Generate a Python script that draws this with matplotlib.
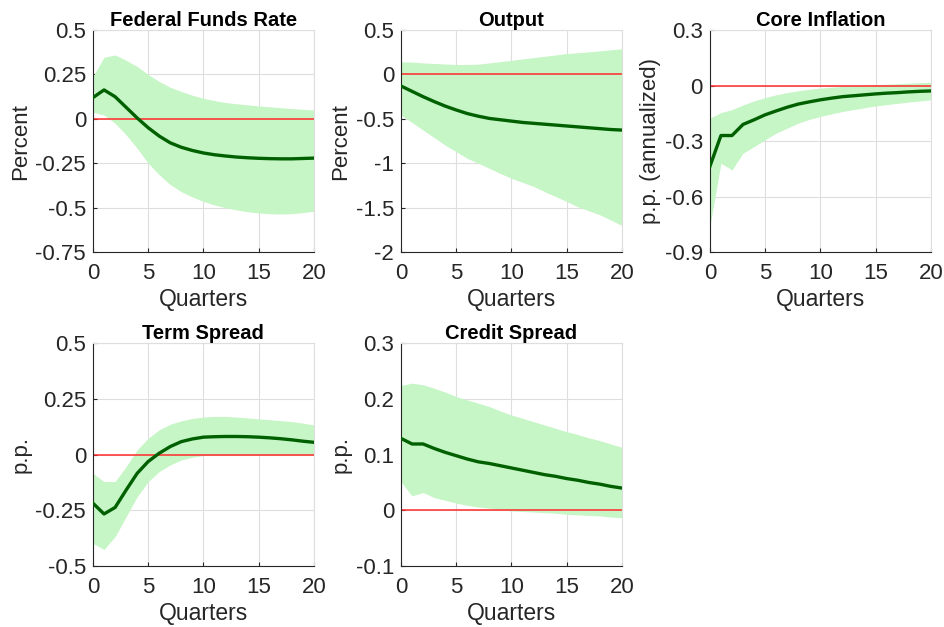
import matplotlib
matplotlib.use("Agg")
import matplotlib.pyplot as plt
import numpy as np

plt.rcParams['font.family'] = ['Liberation Sans', 'DejaVu Sans']

quarters = np.arange(21)

# Federal Funds Rate
ffr_med = [0.12, 0.163, 0.125, 0.065, 0.005, -0.05, -0.097, -0.135, -0.16, -0.178, -0.192,
           -0.202, -0.209, -0.215, -0.219, -0.222, -0.224, -0.225, -0.225, -0.223, -0.221]
ffr_hi = [0.24, 0.347, 0.36, 0.33, 0.295, 0.25, 0.21, 0.178, 0.154, 0.133, 0.116,
          0.103, 0.092, 0.085, 0.079, 0.073, 0.068, 0.063, 0.058, 0.054, 0.05]
ffr_lo = [0.037, 0.022, -0.024, -0.09, -0.165, -0.25, -0.315, -0.37, -0.41, -0.44, -0.465,
          -0.485, -0.50, -0.513, -0.523, -0.53, -0.534, -0.536, -0.534, -0.528, -0.52]

# Output
out_med = [-0.13, -0.19, -0.25, -0.305, -0.356, -0.40, -0.44, -0.47, -0.495, -0.51, -0.525,
           -0.54, -0.55, -0.56, -0.57, -0.58, -0.59, -0.60, -0.61, -0.62, -0.626]
out_hi = [0.142, 0.14, 0.13, 0.124, 0.118, 0.112, 0.113, 0.116, 0.13, 0.145, 0.16,
          0.175, 0.19, 0.205, 0.22, 0.236, 0.245, 0.255, 0.266, 0.278, 0.29]
out_lo = [-0.457, -0.54, -0.626, -0.71, -0.795, -0.87, -0.945, -1.0, -1.057, -1.115, -1.17,
          -1.215, -1.26, -1.32, -1.375, -1.43, -1.49, -1.535, -1.58, -1.64, -1.70]

# Core Inflation
core_med = [-0.437, -0.27, -0.27, -0.21, -0.185, -0.158, -0.137, -0.117, -0.10, -0.088, -0.077,
            -0.068, -0.06, -0.055, -0.05, -0.045, -0.041, -0.038, -0.034, -0.031, -0.029]
core_hi = [-0.176, -0.146, -0.13, -0.105, -0.083, -0.065, -0.05, -0.038, -0.028, -0.02, -0.014,
           -0.009, -0.005, -0.001, 0.002, 0.004, 0.007, 0.01, 0.013, 0.016, 0.018]
core_lo = [-0.76, -0.42, -0.456, -0.365, -0.33, -0.293, -0.257, -0.23, -0.203, -0.183, -0.167,
           -0.153, -0.14, -0.13, -0.12, -0.11, -0.103, -0.096, -0.089, -0.083, -0.077]

# Term Spread
term_med = [-0.218, -0.266, -0.237, -0.159, -0.084, -0.031, 0.006, 0.036, 0.058, 0.07, 0.078,
            0.08, 0.081, 0.081, 0.08, 0.078, 0.075, 0.071, 0.066, 0.06, 0.055]
term_hi = [-0.084, -0.121, -0.121, -0.054, 0.021, 0.073, 0.111, 0.136, 0.151, 0.162, 0.168,
           0.171, 0.171, 0.168, 0.164, 0.16, 0.156, 0.152, 0.148, 0.141, 0.133]
term_lo = [-0.398, -0.425, -0.368, -0.278, -0.189, -0.121, -0.076, -0.046, -0.024, -0.012, -0.004,
           0.0, 0.0, 0.0, 0.0, 0.0, 0.0, 0.0, 0.0, 0.0, 0.0]

# Credit Spread
cred_med = [0.129, 0.119, 0.119, 0.111, 0.104, 0.098, 0.092, 0.087, 0.084, 0.08, 0.076,
            0.072, 0.068, 0.064, 0.061, 0.057, 0.054, 0.05, 0.047, 0.043, 0.040]
cred_hi = [0.224, 0.228, 0.225, 0.219, 0.212, 0.204, 0.198, 0.192, 0.186, 0.178, 0.171,
           0.165, 0.159, 0.153, 0.147, 0.141, 0.136, 0.13, 0.125, 0.119, 0.113]
cred_lo = [0.051, 0.026, 0.032, 0.023, 0.018, 0.013, 0.009, 0.006, 0.004, 0.001, -0.001,
           -0.002, -0.003, -0.004, -0.005, -0.007, -0.008, -0.009, -0.010, -0.012, -0.013]

panels = [
    ("Federal Funds Rate", "Percent", ffr_med, ffr_lo, ffr_hi,
     [-0.75, -0.5, -0.25, 0, 0.25, 0.5], ["-0.75", "-0.5", "-0.25", "0", "0.25", "0.5"]),
    ("Output", "Percent", out_med, out_lo, out_hi,
     [-2, -1.5, -1, -0.5, 0, 0.5], ["-2", "-1.5", "-1", "-0.5", "0", "0.5"]),
    ("Core Inflation", "p.p. (annualized)", core_med, core_lo, core_hi,
     [-0.9, -0.6, -0.3, 0, 0.3], ["-0.9", "-0.6", "-0.3", "0", "0.3"]),
    ("Term Spread", "p.p.", term_med, term_lo, term_hi,
     [-0.5, -0.25, 0, 0.25, 0.5], ["-0.5", "-0.25", "0", "0.25", "0.5"]),
    ("Credit Spread", "p.p.", cred_med, cred_lo, cred_hi,
     [-0.1, 0, 0.1, 0.2, 0.3], ["-0.1", "0", "0.1", "0.2", "0.3"]),
]

# axes boxes in figure fractions (left, bottom, width, height)
boxes = [
    [0.0985, 0.598, 0.234, 0.354],
    [0.4248, 0.598, 0.234, 0.354],
    [0.752, 0.598, 0.234, 0.354],
    [0.0985, 0.097, 0.234, 0.356],
    [0.4248, 0.097, 0.234, 0.356],
]

fig = plt.figure(figsize=(9.44, 6.27), dpi=100)

for box, (title, ylab, med, lo, hi, yt, ytl) in zip(boxes, panels):
    ax = fig.add_axes(box)
    ax.fill_between(quarters, lo, hi, color="#c6f5c6", linewidth=0, zorder=1)
    ax.axhline(0, color="#ff2a2a", linewidth=1.1, zorder=2)
    ax.plot(quarters, med, color="#006000", linewidth=2.4, zorder=3)
    ax.set_xlim(0, 20)
    ax.set_ylim(yt[0], yt[-1])
    ax.set_xticks([0, 5, 10, 15, 20])
    ax.set_yticks(yt)
    ax.set_yticklabels(ytl)
    ax.grid(True, color="#dedede", linewidth=0.8, zorder=0)
    ax.set_axisbelow(True)
    ax.tick_params(direction="in", length=3, labelsize=16, colors="#262626")
    ax.tick_params(axis="x", pad=8)
    ax.tick_params(axis="y", pad=5)
    for s in ["top", "right"]:
        ax.spines[s].set_color("#dedede")
    for s in ["left", "bottom"]:
        ax.spines[s].set_color("#262626")
        ax.spines[s].set_linewidth(0.8)
    ax.set_title(title, fontsize=14.5, fontweight="bold", pad=3)
    ax.set_xlabel("Quarters", fontsize=16.5, labelpad=3, color="#262626")
    ax.set_ylabel(ylab, fontsize=16, labelpad=3, color="#262626")

fig.savefig("out.png", dpi=100)
